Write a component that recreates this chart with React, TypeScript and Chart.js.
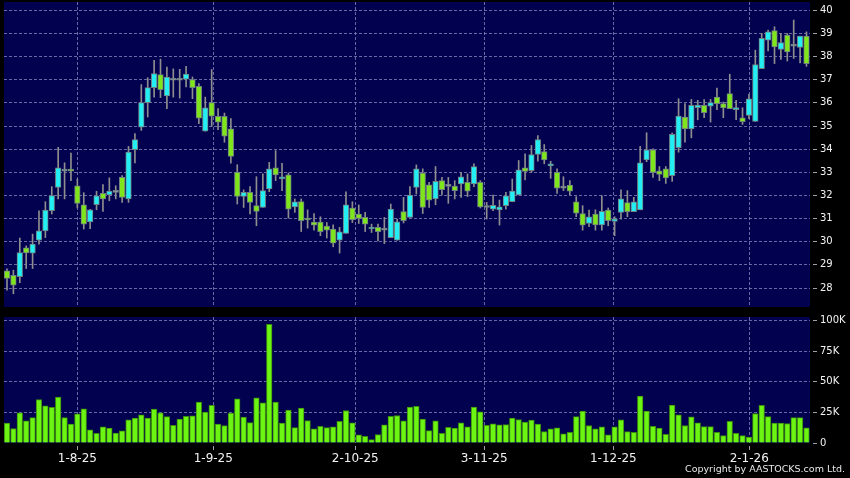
import React, { useEffect, useRef } from "react";
import { Chart, registerables } from "chart.js";
Chart.register(...registerables);

// ---- data ----
const opens = [
  28.74, 28.55, 28.49, 29.74, 29.51, 30.07, 30.47, 31.34, 32.35, 33.06,
  33.08, 32.42, 31.6, 30.86, 31.6, 32.09, 32.02, 32.15, 32.78, 31.85,
  33.98, 34.95, 36.01, 36.66, 37.22, 36.3, 37.0, 36.98, 37.03, 37.01,
  36.72, 34.78, 36.01, 35.42, 35.42, 34.88, 33.0, 31.96, 32.13, 31.56,
  31.48, 32.28, 33.19, 32.71, 32.89, 31.51, 31.74, 31.02, 30.85, 30.85,
  30.68, 30.55, 30.07, 30.36, 31.46, 31.2, 31.05, 30.55, 30.62, 30.51,
  30.18, 30.07, 31.3, 31.05, 32.35, 32.97, 32.46, 31.85, 32.64, 32.4,
  32.41, 32.5, 32.57, 32.5, 32.57, 31.49, 31.41, 31.37, 31.56, 31.73,
  32.02, 33.19, 33.07, 33.77, 33.9, 33.28, 33.0, 32.33, 32.45, 31.73,
  31.22, 30.79, 31.2, 30.73, 31.37, 30.88, 31.27, 31.69, 31.3, 31.38,
  33.54, 33.97, 33.06, 33.15, 32.86, 34.06, 35.39, 34.88, 35.79, 35.89,
  35.86, 36.25, 35.97, 36.4, 35.71, 35.36, 35.46, 35.2, 37.48, 38.71,
  39.12, 38.31, 38.93, 38.46, 38.4, 38.89,
];
const highs = [
  28.83, 28.77, 30.16, 29.82, 30.33, 31.34, 31.73, 32.38, 34.08, 33.41,
  33.83, 32.71, 32.12, 31.4, 32.18, 32.47, 32.76, 32.42, 32.86, 34.12,
  34.67, 36.79, 37.09, 37.84, 37.89, 37.55, 37.47, 37.45, 37.58, 37.12,
  36.83, 36.25, 37.44, 35.75, 35.56, 35.32, 33.33, 32.24, 32.38, 32.81,
  32.93, 33.43, 33.94, 33.39, 32.97, 31.85, 31.85, 31.38, 31.22, 31.08,
  30.83, 30.73, 30.62, 32.16, 31.73, 31.59, 31.27, 30.76, 30.76, 31.05,
  31.63, 30.98, 31.92, 32.38, 33.32, 33.15, 32.57, 33.25, 32.78, 32.78,
  32.64, 33.0, 32.93, 33.37, 32.64, 31.7, 32.02, 31.8, 32.13, 32.71,
  33.51, 33.8, 34.16, 34.59, 34.2, 33.48, 33.15, 32.81, 32.64, 31.95,
  31.56, 31.37, 31.38, 31.99, 31.46, 31.08, 32.24, 32.21, 31.92, 34.12,
  34.71, 34.02, 33.25, 33.25, 34.7, 36.18, 35.97, 36.15, 36.11, 36.14,
  36.15, 36.64, 36.04, 37.24, 36.11, 35.79, 36.37, 38.28, 39.0, 39.15,
  39.29, 39.0, 39.0, 39.58, 38.89, 39.07,
];
const lows = [
  27.91, 27.75, 28.23, 28.84, 28.84, 29.9, 30.18, 31.2, 31.85, 31.85,
  32.64, 31.46, 30.55, 30.57, 31.38, 31.31, 31.77, 31.85, 31.7, 31.7,
  33.41, 34.81, 35.39, 36.25, 36.23, 35.75, 36.25, 36.21, 36.69, 36.18,
  35.1, 34.78, 34.98, 34.84, 34.3, 33.39, 31.63, 31.48, 31.2, 30.69,
  31.48, 32.16, 32.64, 32.21, 31.02, 31.27, 30.44, 30.59, 30.5, 30.26,
  30.16, 29.78, 29.51, 30.36, 30.83, 30.79, 30.44, 30.4, 30.04, 29.92,
  30.18, 30.07, 30.81, 31.05, 32.06, 31.22, 31.48, 31.6, 32.02, 31.66,
  31.85, 31.92, 31.95, 32.38, 31.46, 30.98, 31.34, 30.72, 31.41, 31.73,
  32.02, 32.67, 33.0, 33.48, 33.37, 32.74, 32.09, 32.21, 32.03, 31.08,
  30.5, 30.65, 30.5, 30.5, 30.69, 30.26, 30.98, 31.08, 31.3, 31.38,
  33.46, 32.78, 32.64, 32.52, 32.61, 33.87, 34.3, 34.49, 35.27, 35.36,
  35.17, 35.71, 35.36, 35.75, 35.27, 35.07, 35.32, 35.2, 37.48, 38.25,
  37.7, 37.88, 37.81, 37.92, 37.73, 37.58,
];
const closes = [
  28.42, 28.12, 29.53, 29.52, 29.9, 30.47, 31.37, 31.99, 33.19, 33.05,
  33.05, 31.66, 30.76, 31.38, 31.98, 31.85, 32.19, 32.13, 31.92, 33.87,
  34.41, 36.01, 36.66, 37.27, 36.57, 37.12, 36.98, 37.0, 37.24, 36.66,
  35.34, 35.79, 35.43, 35.17, 34.56, 33.69, 31.96, 32.13, 31.7, 31.31,
  32.21, 33.15, 32.89, 32.8, 31.41, 31.72, 30.91, 30.94, 30.72, 30.44,
  30.5, 29.94, 30.43, 31.59, 30.95, 31.01, 30.76, 30.63, 30.43, 30.5,
  31.41, 30.86, 30.91, 32.02, 33.15, 31.48, 31.8, 32.61, 32.25, 32.39,
  32.21, 32.81, 32.18, 33.25, 31.51, 31.48, 31.57, 31.51, 31.98, 32.19,
  33.11, 33.04, 33.77, 34.41, 33.54, 33.37, 32.32, 32.32, 32.19, 31.24,
  30.72, 31.08, 30.73, 31.31, 30.91, 30.99, 31.85, 31.3, 31.73, 33.41,
  33.97, 33.0, 32.91, 32.76, 34.64, 35.43, 34.88, 35.89, 35.91, 35.58,
  36.01, 35.97, 35.78, 35.75, 35.78, 35.19, 36.18, 37.66, 38.79, 39.07,
  38.42, 38.61, 38.2, 38.45, 38.89, 37.7,
];
const volumes = [
  16200, 11800, 24700, 18100, 20800, 35400, 30400, 29100, 37600, 20800,
  15400, 23900, 28000, 10700, 8000, 13200, 12100, 8200, 9900, 18900,
  20300, 23000, 20300, 27700, 24700, 21600, 14500, 19500, 21900, 22200,
  33400, 25200, 30700, 15400, 14300, 24400, 36200, 21100, 16700, 37000,
  32900, 97000, 33400, 16200, 26900, 12600, 28500, 18400, 11500, 13700,
  12600, 13200, 17800, 26600, 16400, 6600, 5500, 2700, 6800, 14800,
  21900, 22500, 18100, 29300, 29900, 19500, 10100, 18100, 8000, 12900,
  12100, 16400, 13200, 29300, 25500, 14500, 15600, 14800, 15100, 20300,
  19200, 17000, 18700, 15400, 9300, 11500, 12300, 7400, 8800, 21600,
  26100, 14300, 11500, 13200, 6600, 13200, 18900, 9300, 8800, 38400,
  26100, 13700, 12100, 7100, 31000, 23000, 14300, 21400, 16400, 13400,
  13400, 8800, 6000, 17800, 8000, 6000, 4900, 24100, 30700, 21600,
  16200, 16200, 15900, 20800, 20800, 12300,
];
// date axis labels and the (trading-day index) where each one sits
const dateTickIndex = [11, 32.25, 54.45, 74.6, 94.8, 116.05];
const dateTickLabels = ["1-8-25", "1-9-25", "2-10-25", "3-11-25", "1-12-25", "2-1-26"];
const priceTicks = [28, 29, 30, 31, 32, 33, 34, 35, 36, 37, 38, 39, 40];
const priceMin = 27.18;
const priceMax = 40.36;
const volumeTicks = [0, 25000, 50000, 75000, 100000];
const volumeTickLabels = ["0", "25K", "50K", "75K", "100K"];
const volumeMax = 103000;

// ---- styles ----
const NAVY = "#020150";
const GRID = "rgba(130,130,185,0.8)";
const TICKCOL = "#a0a0a8";
const UP = "#22eef4";
const DOWN = "#80e61c";
const DOJI = "#9aa4a8";
const FONT = "DejaVu Sans";
const X_MIN = -0.47;
const X_MAX = 125.55;

const navyBg = {
  id: "navyBg",
  beforeDraw(chart: any) {
    const { ctx, chartArea } = chart;
    ctx.save();
    ctx.fillStyle = NAVY;
    ctx.fillRect(chartArea.left, chartArea.top, chartArea.right - chartArea.left, chartArea.bottom - chartArea.top);
    ctx.restore();
  },
};

function dateAxis(showLabels: boolean, height: number) {
  return {
    type: "linear",
    min: X_MIN,
    max: X_MAX,
    offset: false,
    afterBuildTicks: (s: any) => {
      s.ticks = dateTickIndex.map((v) => ({ value: v }));
    },
    afterFit: (s: any) => {
      s.height = height;
      s.paddingLeft = 0;
      s.paddingRight = 0;
    },
    ticks: {
      display: showLabels,
      autoSkip: false,
      maxRotation: 0,
      minRotation: 0,
      color: "#f2f2f2",
      font: { family: FONT, size: 12 },
      padding: 2,
      callback: (_v: any, i: number) => dateTickLabels[i],
    },
    grid: {
      offset: false,
      color: GRID,
      drawTicks: showLabels,
      tickLength: 7,
      tickColor: TICKCOL,
      tickBorderDash: [0, 3, 4],
    },
    border: { display: false, dash: [3, 2] },
  };
}

function valueAxis(min: number, max: number, tickValues: number[], labels: string[] | null, hideZeroGrid: boolean) {
  return {
    type: "linear",
    position: "right",
    min,
    max,
    afterBuildTicks: (s: any) => {
      s.ticks = tickValues.map((v) => ({ value: v }));
    },
    afterFit: (s: any) => {
      s.width = 40;
      s.paddingTop = 0;
      s.paddingBottom = 0;
    },
    ticks: {
      autoSkip: false,
      color: "#f2f2f2",
      font: { family: FONT, size: 10 },
      padding: 3,
      callback: (v: any, i: number) => (labels ? labels[i] : String(v)),
    },
    grid: {
      color: (c: any) => (hideZeroGrid && c.tick && c.tick.value === 0 ? "rgba(0,0,0,0)" : GRID),
      tickLength: 7,
      tickColor: TICKCOL,
      tickBorderDash: [0, 3, 4],
    },
    border: { display: false, dash: [3, 2] },
  };
}

export default function App() {
  const priceRef = useRef<HTMLCanvasElement>(null);
  const volRef = useRef<HTMLCanvasElement>(null);

  useEffect(() => {
    document.body.style.margin = "0";
    document.body.style.background = "#000";
    const idx = closes.map((_, i) => i);
    const bodyColors = idx.map((i) =>
      Math.abs(closes[i] - opens[i]) < 0.03 ? DOJI : closes[i] >= opens[i] ? UP : DOWN
    );

    const price = new Chart(priceRef.current!, {
      type: "bar",
      data: {
        datasets: [
          {
            label: "body",
            data: idx.map((i) => ({ x: i, y: [opens[i], closes[i]] })),
            backgroundColor: bodyColors,
            borderColor: "#6f8080",
            borderWidth: 1,
            borderSkipped: false,
            barThickness: 5.6,
            minBarLength: 2,
            grouped: false,
            order: 0,
          } as any,
          {
            label: "wick",
            data: idx.map((i) => ({ x: i, y: [lows[i], highs[i]] })),
            backgroundColor: "#8e8e8e",
            borderWidth: 0,
            barThickness: 1,
            grouped: false,
            order: 1,
          } as any,
        ],
      },
      options: {
        animation: false,
        responsive: false,
        maintainAspectRatio: false,
        layout: { padding: { left: 4, top: 2, right: 0, bottom: 5 } },
        plugins: { legend: { display: false }, tooltip: { enabled: false } },
        scales: {
          x: dateAxis(false, 0) as any,
          y: valueAxis(priceMin, priceMax, priceTicks, null, false) as any,
        },
      },
      plugins: [navyBg],
    });

    const vol = new Chart(volRef.current!, {
      type: "bar",
      data: {
        datasets: [
          {
            label: "volume",
            data: idx.map((i) => ({ x: i, y: volumes[i] })),
            backgroundColor: "#6cf512",
            borderColor: "#3c8c0c",
            borderWidth: 1,
            borderSkipped: "start",
            barThickness: 5.6,
            grouped: false,
          } as any,
        ],
      },
      options: {
        animation: false,
        responsive: false,
        maintainAspectRatio: false,
        layout: { padding: { left: 4, top: 5, right: 0, bottom: 0 } },
        plugins: { legend: { display: false }, tooltip: { enabled: false } },
        scales: {
          x: dateAxis(true, 35) as any,
          y: valueAxis(0, volumeMax, volumeTicks, volumeTickLabels, true) as any,
        },
      },
      plugins: [navyBg],
    });

    return () => {
      price.destroy();
      vol.destroy();
    };
  }, []);

  return (
    <div style={{ position: "relative", width: 850, height: 478, background: "#000", overflow: "hidden" }}>
      <canvas ref={priceRef} width={850} height={312} style={{ position: "absolute", left: 0, top: 0, width: 850, height: 312 }} />
      <canvas ref={volRef} width={850} height={166} style={{ position: "absolute", left: 0, top: 312, width: 850, height: 166 }} />
      <div
        style={{
          position: "absolute",
          right: 5,
          top: 462,
          fontFamily: FONT,
          fontSize: "9.5px",
          lineHeight: "14px",
          color: "#e8e8e8",
          whiteSpace: "nowrap",
        }}
      >
        Copyright by AASTOCKS.com Ltd.
      </div>
    </div>
  );
}
